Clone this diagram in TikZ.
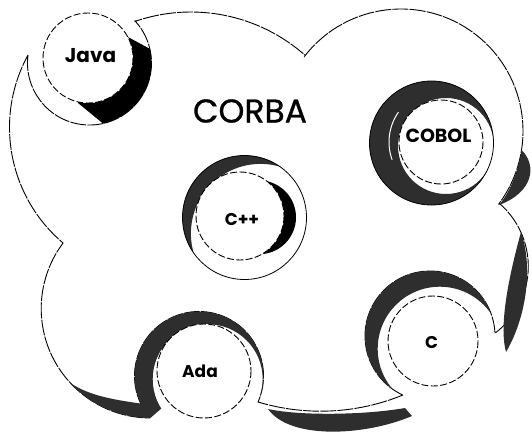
\documentclass[tikz,border=0pt]{standalone}
\usepackage{fontspec}
\setmainfont{Poppins}
\newfontfamily\corbafont[FakeBold=0.8]{Poppins}
\usetikzlibrary{calc}
\begin{document}
\begin{tikzpicture}[x=1pt,y=1pt,yscale=-1]
\tikzset{
  outline/.style={line width=0.9pt, dash pattern=on 16pt off 1.2pt},
  lang/.style={draw, fill=white, line width=0.9pt, dash pattern=on 7pt off 2.4pt},
  band/.style={fill=black!82},
  ring/.style={draw, line width=0.8pt},
  highlight/.style={draw=white, line width=1pt},
  lbl/.style={inner sep=0pt, font=\bfseries\fontsize{18}{18}\selectfont},
}
\useasboundingbox (0,0) rectangle (532,445);
% lobe centres of the cloud outline
\coordinate (Ac) at (89.5,63);
\coordinate (Bc) at (191,184);
\coordinate (Cc) at (401,131);
\coordinate (Dc) at (445,266.5);
\coordinate (Ec) at (430,336);
\coordinate (Fc) at (320.6,193.7);
\coordinate (Gc) at (199,376);
\coordinate (Hc) at (150.6,308.6);
\coordinate (Ic) at (160.8,127.5);
% cloud outline
\draw[outline] ($(Ac)+(187.4:62)$) arc[start angle=187.4, end angle=-42.7, radius=62]
  -- ($(Bc)+(-109:172)$) arc[start angle=-109, end angle=-48.4, radius=172]
  -- ($(Cc)+(-141.8:122)$) arc[start angle=-141.8, end angle=37, radius=122]
  -- ($(Dc)+(-49.3:83.3)$) arc[start angle=-49.3, end angle=53.1, radius=83.3]
  -- ($(Ec)+(-2.7:65)$) arc[start angle=-2.7, end angle=-245.4, radius=65]
  -- ($(Fc)+(67.7:217.5)$) arc[start angle=67.7, end angle=106.7, radius=217.5]
  -- ($(Gc)+(22.5:64.5)$) arc[start angle=22.5, end angle=-220.8, radius=64.5]
  -- ($(Hc)+(90.3:109.4)$) arc[start angle=90.3, end angle=216.8, radius=109.4]
  -- ($(Ic)+(130.3:151.3)$) arc[start angle=130.3, end angle=208.6, radius=151.3]
  -- cycle;
% shadow bands on the outline
\fill[band] (521.5,150) .. controls (537,165) and (534,192) .. (499,205)
  .. controls (510,192) and (518,172) .. cycle;
\fill[band] (521,232) .. controls (534,270) and (525,320) .. (506,352)
  .. controls (500,330) and (505,290) .. cycle;
\fill[band] (268,409) .. controls (290,440) and (365,436) .. (412,416)
  -- (405,408) .. controls (365,415) and (300,416) .. cycle;
\fill[band] ($(Hc)+(137:109.4)$) arc[start angle=137, end angle=90.3, radius=109.4]
  -- (144,404) .. controls (115,400) and (90,396) .. cycle;
% Java
\coordinate (Jin) at (88,58);
\begin{scope}
  \clip (78,103) -- (106,126) -- (175,140) -- (178,47) -- (152,50) -- (128,37) -- (88,58) -- cycle;
  \clip (Ac) circle[radius=62];
  \fill[black, even odd rule] (-10,-10) rectangle (540,450) (Jin) circle[radius=45];
\end{scope}
\path[lang] (Jin) circle[radius=45];
\node[lbl, font=\bfseries\fontsize{20}{20}\selectfont] (java) at (90.5,56) {Java};
% CORBA title
\node[inner sep=0pt, font=\corbafont\fontsize{33}{33}\selectfont] (corba) at (250,111) {CORBA};
% COBOL
\coordinate (Kc) at (431.5,143);
\coordinate (Kp) at (446,146);
\coordinate (Kin) at (441,142);
\begin{scope}
  \clip (Kc) circle[radius=62];
  \fill[band, even odd rule] (-10,-10) rectangle (540,450) (Kp) circle[radius=48];
\end{scope}
\draw[ring] (Kc) circle[radius=62];
\draw[highlight] ($(Kin)+(215:52)$) arc[start angle=215, end angle=160, radius=52];
\path[lang] (Kin) circle[radius=42];
\node[lbl, font=\bfseries\fontsize{19}{19}\selectfont] (cobol) at (438.5,136) {COBOL};
% C++
\coordinate (Pc) at (244.5,217.5);
\coordinate (Pp) at (260.5,233.5);
\coordinate (Pin) at (240,216);
\coordinate (Pb) at (259.1,217.3);
\begin{scope}
  \clip (Pc) circle[radius=62];
  \fill[band, even odd rule] (-10,-10) rectangle (540,450) (Pp) circle[radius=69.6];
\end{scope}
\draw[ring] (Pc) circle[radius=62];
\fill[black] (Pb) circle[radius=36.9];
\path[lang] (Pin) circle[radius=44];
\node[lbl, font=\bfseries\fontsize{17}{17}\selectfont] (cpp) at (242,220) {C++};
% C
\coordinate (Qp) at (439.8,348.8);
\coordinate (Qin) at (433,341);
\begin{scope}
  \clip (Ec) circle[radius=65];
  \fill[band, even odd rule] (-10,-10) rectangle (540,450) (Qp) circle[radius=62.1];
\end{scope}
\path[lang] (Qin) circle[radius=45];
\node[lbl, font=\bfseries\fontsize{17}{17}\selectfont] (c) at (431.5,342.5) {C};
% Ada
\coordinate (Gp) at (207.7,379.2);
\coordinate (Ain) at (204,371);
\begin{scope}
  \clip (Gc) circle[radius=64.5];
  \clip (Gc) -- ($(Gc)+(22.5:250)$) -- (450,150) -- (-50,150) -- ($(Gc)+(139.2:250)$) -- cycle;
  \fill[band, even odd rule] (-10,-10) rectangle (540,450) (Gp) circle[radius=55];
\end{scope}
\path[lang] (Ain) circle[radius=47];
\node[lbl, font=\bfseries\fontsize{17}{17}\selectfont] (ada) at (200,371.5) {Ada};
\end{tikzpicture}
\end{document}
